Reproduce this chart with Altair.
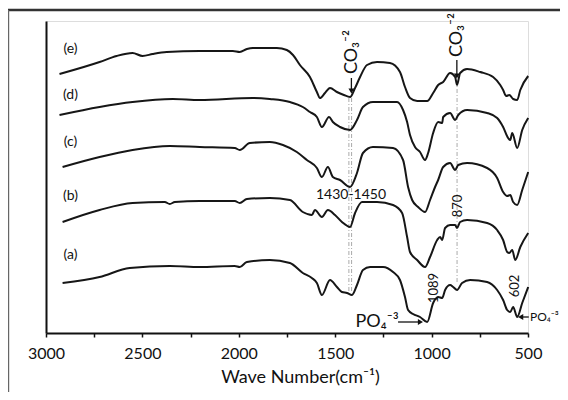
import altair as alt
import pandas as pd

FONT = "Lato, Open Sans, sans-serif"

# ---- spectra (wave number cm-1, offset transmittance, arbitrary units) ----
wn_e = [2930,2722,2634,2551,2499,2447,2374,2203,2031,1995,1958,1927,1855,1803,1751,1719,1683,1631,1595,1579,
        1553,1527,1491,1455,1423,1397,1371,1335,1283,1216,1164,1138,1112,1075,1023,992,966,940,904,878,
        868,852,816,748,681,644,629,613,597,577,556,540,499]
t_e = [259,271,277,280,277,279,281,282,282,281,284,285,285,285,283,278,268,256,241,235,
       240,245,241,238,236,245,256,268,271,270,261,246,235,232,232,240,248,251,260,256,
       248,260,264,261,256,248,243,237,238,234,233,243,257]

wn_d = [2930,2722,2551,2343,2203,1927,1839,1735,1668,1631,1595,1569,1532,1512,1475,1423,1387,1356,1304,1179,
        1148,1127,1112,1086,1060,1034,1018,992,966,945,940,904,878,862,816,712,660,629,603,592,
        582,556,530,499]
t_d = [218,226,231,234,233,235,234,231,226,221,216,206,216,211,206,203,213,226,231,231,
       223,211,198,186,181,173,180,200,211,210,216,220,213,218,223,220,215,206,195,193,
       200,185,203,215]

wn_c = [2914,2722,2551,2358,2203,2021,1995,1943,1839,1771,1699,1647,1595,1569,1538,1512,1475,1423,1387,1356,
        1304,1200,1148,1122,1101,1070,1034,1008,982,966,940,904,878,862,816,712,660,629,608,592,
        577,556,530,499]
t_c = [166,176,183,187,186,185,183,190,191,188,181,173,165,156,166,156,153,146,160,180,
       186,185,173,146,133,126,121,133,146,153,166,170,163,168,170,165,155,141,137,138,
       131,128,143,161]

wn_b = [2914,2722,2551,2384,2358,2332,2203,2021,1995,1958,1839,1735,1668,1621,1605,1569,1538,1501,1465,1423,
        1397,1361,1283,1200,1153,1127,1112,1075,1034,1008,971,956,945,930,904,878,868,852,816,712,
        660,629,608,597,582,566,540,499]
t_b = [111,123,130,131,129,131,132,132,130,134,135,133,121,118,123,116,123,118,111,106,
       120,131,131,128,120,96,81,73,66,76,93,96,93,105,108,108,105,111,113,110,
       103,93,81,80,83,73,86,100]

wn_a = [2914,2722,2566,2358,2203,2021,1995,1958,1839,1735,1668,1621,1595,1569,1527,1491,1465,1439,1413,1387,
        1356,1319,1252,1200,1164,1138,1122,1096,1060,1023,992,966,945,930,904,888,868,842,800,712,
        660,629,608,592,577,556,530,499]
t_a = [50,56,65,67,66,67,66,71,73,70,60,55,50,38,53,46,41,40,38,48,
       63,66,66,61,53,36,23,19,16,11,30,36,35,43,48,46,43,50,53,51,
       43,33,23,21,26,16,30,46]

series_names = ["(e)", "(d)", "(c)", "(b)", "(a)"]
label_wn = [2873, 2873, 2873, 2873, 2873]
label_t = [284, 238, 191, 137, 78]

# annotations
vline_wn = [1429, 1415, 868]
vline_t1 = [235, 235, 253]
vline_t2 = [41, 41, 50]

rot_text = ["CO₃⁻²", "CO₃⁻²", "870", "1089", "602"]
rot_wn = [1413, 868, 862, 990, 566]
rot_t = [281, 298, 127, 45, 47]
rot_size = [18, 18, 13, 13, 13]

flat_text = ["1430-1450", "PO₄⁻³", "PO₄⁻³"]
flat_wn = [1418, 1283, 490]
flat_t = [138, 11, 16]
flat_align = ["center", "center", "left"]
flat_size = [14, 18, 12]

# arrows: shaft start / tip and head direction
arr_wn1 = [1416, 869, 1174, 496]
arr_t1 = [255, 273, 11, 16]
arr_wn2 = [1416, 869, 1058, 538]
arr_t2 = [242, 257, 11, 16]
arr_shape = ["triangle-down", "triangle-down", "triangle-right", "triangle-left"]

rows = []
for name, ws, ts in zip(series_names, [wn_e, wn_d, wn_c, wn_b, wn_a], [t_e, t_d, t_c, t_b, t_a]):
    for w, t in zip(ws, ts):
        rows.append({"series": name, "wn": w, "T": t})
spec = pd.DataFrame(rows)

xs = alt.Scale(domain=[500, 3000], reverse=True, nice=False, zero=False)
ys = alt.Scale(domain=[0, 312], nice=False, zero=False)

x_axis = alt.Axis(
    values=list(range(500, 3001, 250)), format="d",
    labelExpr="datum.value % 500 == 0 ? datum.label : ''",
    title="Wave Number(cm⁻¹)", titleFont=FONT, titleFontSize=18, titleFontWeight="normal",
    titleColor="#111", titleX=254, titleY=44, titleBaseline="middle",
    labelFont=FONT, labelFontSize=16, labelColor="#111", labelPadding=8,
    tickSize=4, tickWidth=1.5, tickColor="#111", domainColor="#111", domainWidth=2,
    grid=False, labelFlush=False,
)
y_axis = alt.Axis(title=None, labels=False, ticks=False, grid=False, domainColor="#111", domainWidth=2)

lines = alt.Chart(spec).mark_line(color="#161616", strokeWidth=2, interpolate="monotone").encode(
    x=alt.X("wn:Q", scale=xs, axis=x_axis),
    y=alt.Y("T:Q", scale=ys, axis=y_axis),
    detail="series:N",
)

lab_df = pd.DataFrame({"name": series_names, "wn": label_wn, "T": label_t})
labels = alt.Chart(lab_df).mark_text(font=FONT, fontSize=14, color="#111", align="center").encode(
    x=alt.X("wn:Q", scale=xs), y=alt.Y("T:Q", scale=ys), text="name:N")

vl_df = pd.DataFrame({"wn": vline_wn, "t1": vline_t1, "t2": vline_t2})
vlines = alt.Chart(vl_df).mark_rule(color="#aaaaaa", strokeWidth=1, strokeDash=[4, 2, 1, 2]).encode(
    x=alt.X("wn:Q", scale=xs), y=alt.Y("t1:Q", scale=ys), y2="t2:Q")

rot_df = pd.DataFrame({"txt": rot_text, "wn": rot_wn, "T": rot_t, "size": rot_size})
rot = alt.Chart(rot_df).mark_text(font=FONT, angle=270, color="#111", align="center", baseline="middle").encode(
    x=alt.X("wn:Q", scale=xs), y=alt.Y("T:Q", scale=ys), text="txt:N",
    size=alt.Size("size:Q", scale=None, legend=None))

flat_layers = []
for txt, w, t, al, fs in zip(flat_text, flat_wn, flat_t, flat_align, flat_size):
    d = pd.DataFrame({"txt": [txt], "wn": [w], "T": [t]})
    flat_layers.append(alt.Chart(d).mark_text(font=FONT, fontSize=fs, color="#111", align=al, baseline="middle").encode(
        x=alt.X("wn:Q", scale=xs), y=alt.Y("T:Q", scale=ys), text="txt:N"))

arr_df = pd.DataFrame({"w1": arr_wn1, "t1": arr_t1, "w2": arr_wn2, "t2": arr_t2, "shape": arr_shape})
shafts = alt.Chart(arr_df).mark_rule(color="#111", strokeWidth=1.3).encode(
    x=alt.X("w1:Q", scale=xs), x2="w2:Q", y=alt.Y("t1:Q", scale=ys), y2="t2:Q")
heads = alt.Chart(arr_df).mark_point(filled=True, color="#111", size=35, opacity=1).encode(
    x=alt.X("w2:Q", scale=xs), y=alt.Y("t2:Q", scale=ys),
    shape=alt.Shape("shape:N", scale=None, legend=None))

one = alt.Data(values=[{"k": 1}])
frame_top = alt.Chart(one).mark_rule(color="#333", strokeWidth=2.5).encode(
    x=alt.value(-38), x2=alt.value(520), y=alt.value(-11))
frame_left = alt.Chart(one).mark_rule(color="#666", strokeWidth=1.2).encode(
    x=alt.value(-37.4), y=alt.value(-11), y2=alt.value(372))

chart = alt.layer(
    frame_top, frame_left, vlines, lines, labels, rot, *flat_layers, shafts, heads
).properties(
    width=482, height=312,
    autosize=alt.AutoSizeParams(type="none"),
    padding={"left": 38, "top": 13, "right": 32, "bottom": 59},
).configure_view(stroke=None).configure(background="white")

chart.save("out.html", embed_options={"renderer": "svg", "actions": False})
